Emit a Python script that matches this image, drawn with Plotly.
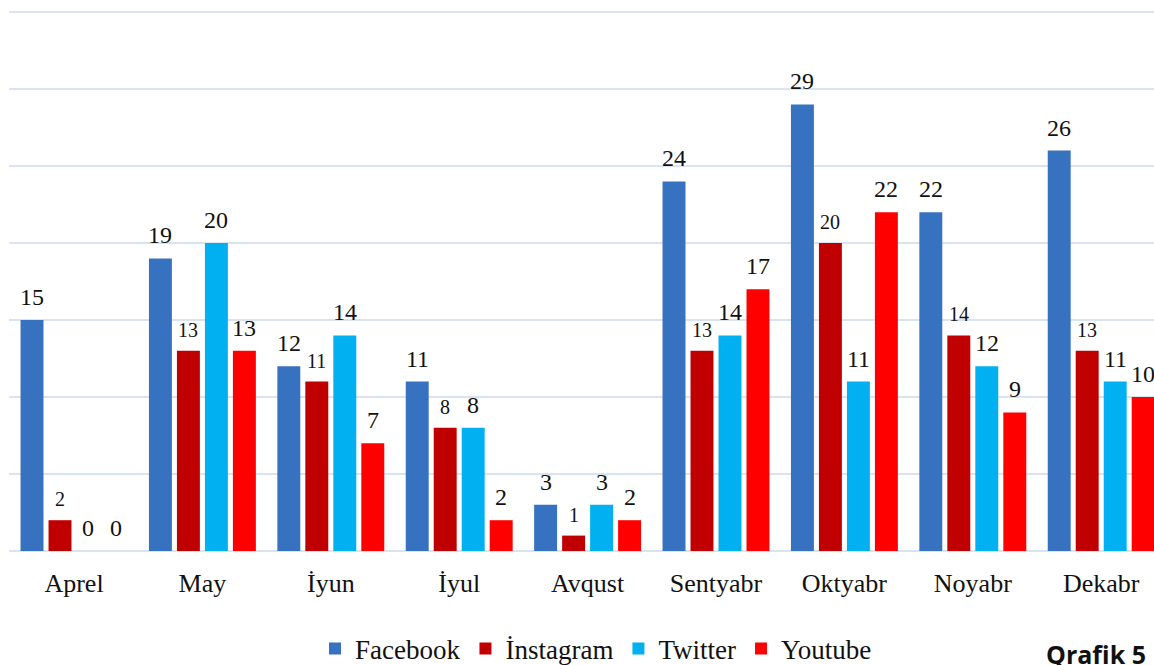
import plotly.graph_objects as go

months = ["Aprel", "May", "İyun", "İyul", "Avqust", "Sentyabr", "Oktyabr", "Noyabr", "Dekabr"]
series_names = ["Facebook", "İnstagram", "Twitter", "Youtube"]
facebook = [15, 19, 12, 11, 3, 24, 29, 22, 26]
instagram = [2, 13, 11, 8, 1, 13, 20, 14, 13]
twitter = [0, 20, 14, 8, 3, 14, 11, 12, 11]
youtube = [0, 13, 7, 2, 2, 17, 22, 9, 10]
colors = ["#3672BF", "#C00000", "#00B0F0", "#FF0000"]
label_sizes = [24, 20, 24, 24]
footer = "Qrafik 5"

all_series = [facebook, instagram, twitter, youtube]
xpos = list(range(len(months)))
bargap = 0.128
slot = (1 - bargap) / 4

W, H = 1154, 665
ml, mr, mt, mb = 9, 0, 0, 114
ph = H - mt - mb
pw = W - ml - mr
cat_px = 128.4
x0 = (74 - ml) / cat_px
px_per_unit = 15.4
y_top = (H - mb) / px_per_unit

fig = go.Figure()
for name, vals, col in zip(series_names, all_series, colors):
    fig.add_trace(go.Bar(x=xpos, y=vals, name=name, marker=dict(color=col, line=dict(width=0))))

annotations = []
for j, vals in enumerate(all_series):
    for i, v in enumerate(vals):
        annotations.append(dict(
            x=i + (j - 1.5) * slot, y=v, xref="x", yref="y",
            text=str(v), showarrow=False, yanchor="bottom", xanchor="center",
            yshift=8, font=dict(family="Liberation Serif, Times New Roman, serif",
                                size=label_sizes[j], color="#111111")))

annotations.append(dict(
    x=(1096 - ml) / pw, y=-(654 - (H - mb)) / ph, xref="paper", yref="paper",
    text="<b>" + footer + "</b>", showarrow=False, xanchor="center", yanchor="middle",
    font=dict(family="Open Sans", size=25, color="#111111")))

fig.update_layout(
    width=W, height=H,
    margin=dict(l=ml, r=mr, t=mt, b=mb, autoexpand=False),
    paper_bgcolor="white", plot_bgcolor="white",
    barmode="group", bargap=bargap, bargroupgap=0.18,
    showlegend=True,
    legend=dict(orientation="h", xref="container", yref="container",
                x=596 / W, xanchor="center", y=1 - 649 / H, yanchor="middle",
                font=dict(family="Liberation Serif, Times New Roman, serif", size=27, color="#111111"),
                bgcolor="rgba(0,0,0,0)"),
    annotations=annotations,
    xaxis=dict(range=[-x0, pw / cat_px - x0], tickmode="array", tickvals=xpos, ticktext=months,
               showgrid=False, zeroline=False, showline=False, ticks="",
               tickfont=dict(family="Liberation Serif, Times New Roman, serif", size=26, color="#111111"),
               ticklabelstandoff=14),
    yaxis=dict(range=[0, y_top],
               tickmode="array", tickvals=[0, 5, 10, 15, 20, 25, 30, 35],
               showticklabels=False, showgrid=True,
               gridcolor="#D9E4F3", gridwidth=2, zeroline=True, zerolinecolor="#D9E4F3",
               zerolinewidth=2, ticks="", fixedrange=True),
)

fig.write_html("out.html", config={"displayModeBar": False},
               post_script="document.body.style.margin='0';")
